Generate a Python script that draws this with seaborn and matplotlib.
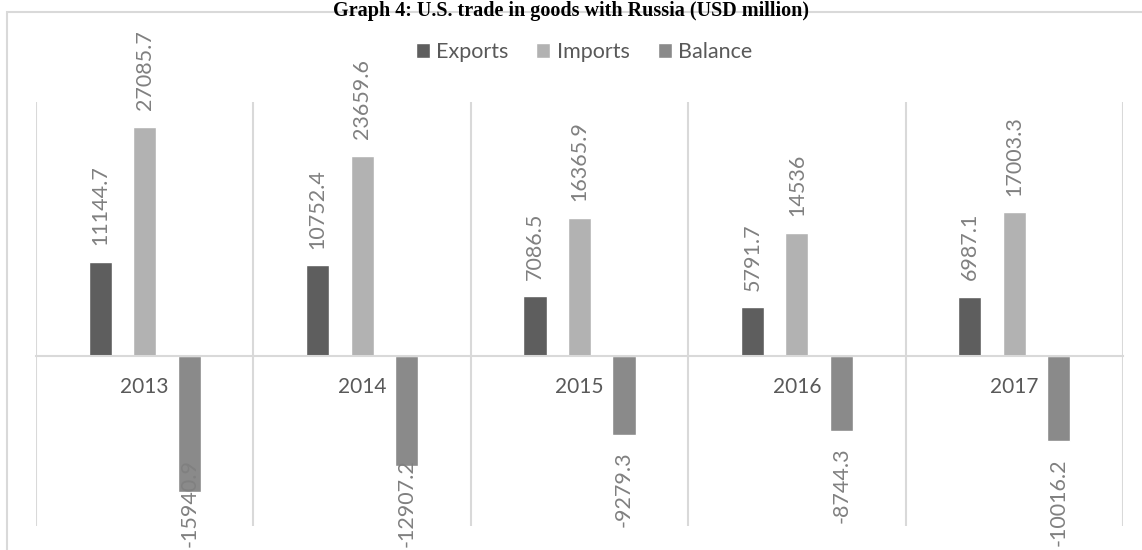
# U.S. trade in goods with Russia, 2013-2017 (USD million)
# Excel-style grouped bar chart redrawn with seaborn.

import numpy as np
import pandas as pd
import matplotlib
matplotlib.use("Agg")
import matplotlib.pyplot as plt
from matplotlib.patches import Rectangle
import seaborn as sns

years = ["2013", "2014", "2015", "2016", "2017"]
exports = [11144.7, 10752.4, 7086.5, 5791.7, 6987.1]
imports = [27085.7, 23659.6, 16365.9, 14536, 17003.3]
balance = [-15940.9, -12907.2, -9279.3, -8744.3, -10016.2]
series = ["Exports", "Imports", "Balance"]
labels = {
    "Exports": ["11144.7", "10752.4", "7086.5", "5791.7", "6987.1"],
    "Imports": ["27085.7", "23659.6", "16365.9", "14536", "17003.3"],
    "Balance": ["-15940.9", "-12907.2", "-9279.3", "-8744.3", "-10016.2"],
}

df = pd.DataFrame({
    "year": years * 3,
    "series": [s for s in series for _ in years],
    "value": exports + imports + balance,
})

sns.set_theme(style="white")
plt.rcParams["font.family"] = ["Lato", "DejaVu Sans"]

W, H = 1142, 550
fig = plt.figure(figsize=(W / 100, H / 100), dpi=100)
ax = fig.add_axes([36 / W, 24 / H, 1087 / W, 424 / H])

colors = ["#5e5e5e", "#b2b2b2", "#8a8a8a"]
sns.barplot(data=df, x="year", y="value", hue="series", palette=colors,
            width=0.615, gap=0.48, ax=ax, saturation=1, errorbar=None)

handles, hlabels = ax.get_legend_handles_labels()
ax.legend_.remove()

ax.set_xlim(-0.5, 4.5)
ax.set_ylim(-20000, 30000)
ax.set_xlabel("")
ax.set_ylabel("")
ax.set_yticks([])

# vertical separators between categories
ax.set_xticks(np.arange(-0.5, 5), minor=True)
ax.grid(False)
ax.grid(axis="x", which="minor", color="#d9d9d9", lw=1.5)
ax.tick_params(axis="x", which="both", length=0)
ax.tick_params(axis="x", which="major", pad=15, labelsize=15, labelcolor="#595959")

for side in ["top", "left", "right"]:
    ax.spines[side].set_visible(False)
ax.spines["bottom"].set_position(("data", 0))
ax.spines["bottom"].set_color("#d9d9d9")
ax.spines["bottom"].set_linewidth(1.5)
ax.set_axisbelow(True)

# data labels, rotated, outside end
texts = []
for cont, name in zip(ax.containers, series):
    for bar, lab in zip(cont, labels[name]):
        x = bar.get_x() + bar.get_width() / 2
        h = bar.get_height()
        off = 12 if h >= 0 else -12
        t = ax.annotate(lab, (x, h), xytext=(0, off), textcoords="offset points",
                        rotation=90, ha="center", va="bottom" if h >= 0 else "top",
                        fontsize=15.5, color="#808080", annotation_clip=False)
        texts.append(t)

# keep labels inside the chart area (Excel pushes them back in)
fig.canvas.draw()
renderer = fig.canvas.get_renderer()
for t in texts:
    bb = t.get_window_extent(renderer)
    if bb.y0 < 3:
        ox, oy = t.xyann
        t.xyann = (ox, oy + (3 - bb.y0) * 72 / fig.dpi)

fig.legend(handles, hlabels, loc="center", bbox_to_anchor=(584 / W, 1 - 52 / H),
           ncol=3, frameon=False, fontsize=15.5, labelcolor="#595959",
           handlelength=0.65, handleheight=0.65, handletextpad=0.3,
           columnspacing=1.3)

# chart frame
fig.add_artist(Rectangle((7 / W, -0.1), 1.2, 1 - 12 / H + 0.1, transform=fig.transFigure,
                         fill=False, ec="#d9d9d9", lw=1.5))

fig.text(0.5, 1 - 1 / H, "Graph 4: U.S. trade in goods with Russia (USD million)",
         ha="center", va="top", fontsize=14.5, fontweight="bold",
         family=["Liberation Serif", "DejaVu Serif"], color="black")

fig.savefig("out.png", dpi=100)
